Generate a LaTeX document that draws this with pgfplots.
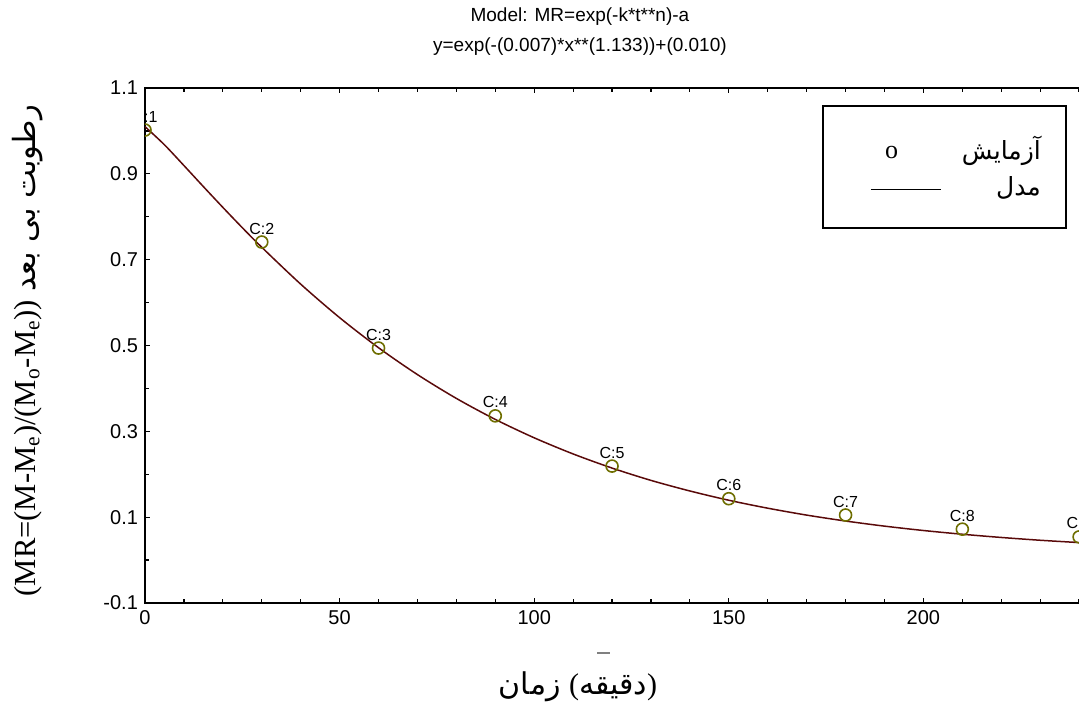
\documentclass[border=0pt]{standalone}
\usepackage{pgfplots}
\pgfplotsset{compat=1.18}
\usepackage{fontspec}
\setmainfont{Liberation Sans}
\newfontfamily\timesfont{Liberation Serif}
\newfontfamily\arabicfont[Script=Arabic]{DejaVu Sans}
\TeXXeTstate=1
\definecolor{curvecol}{HTML}{5A0A0A}
\definecolor{markcol}{HTML}{6E6E00}

\begin{document}
\begin{tikzpicture}
\path[use as bounding box] (-72.5pt,-50.5pt) rectangle (467pt,301.5pt);
\begin{axis}[
  at={(0pt,0pt)}, anchor=south west,
  scale only axis, width=486.5pt, height=257.5pt,
  xmin=0, xmax=250, ymin=-0.1, ymax=1.1,
  xtick={0,50,100,150,200},
  xticklabels={0,50,100,150,200},
  minor xtick={10,20,30,40,60,70,80,90,110,120,130,140,160,170,180,190,210,220,230,240},
  ytick={-0.1,0.1,0.3,0.5,0.7,0.9,1.1},
  yticklabels={-0.1,0.1,0.3,0.5,0.7,0.9,1.1},
  minor y tick num=1,
  tick align=inside, major tick length=2.5pt, minor tick length=2pt,
  axis line style={line width=1pt},
  every tick/.style={black, line width=0.6pt},
  tick label style={font=\fontsize{10}{12}\selectfont},
  clip marker paths=true,
  title={Model: MR=exp(-k*t**n)-a\\y=exp(-(0.007)*x**(1.133))+(0.010)},
  title style={font=\fontsize{9.5}{15}\selectfont, align=center,
    at={(axis description cs:0.447,1)}, anchor=south, yshift=6.5pt},
  xlabel={\hbox{\arabicfont\beginR زمان\endR}\ \hbox{\timesfont(}\hbox{\arabicfont\beginR دقیقه\endR}\hbox{\timesfont)}},
  xlabel style={font=\fontsize{15}{17}\selectfont, at={(axis description cs:0.445,0)}, anchor=north, yshift=-31pt},
  ylabel={{\timesfont (MR=(M-M\textsubscript{e})/(M\textsubscript{o}-M\textsubscript{e}))} {\arabicfont\beginR رطوبت بی بعد\endR}},
  ylabel style={font=\fontsize{15.3}{17}\selectfont, at={(axis description cs:-0.121,0.49)}, anchor=center},
  legend style={at={(axis description cs:0.6958,0.967)}, anchor=north west,
    draw=black, line width=0.9pt, inner xsep=10.5pt, inner ysep=13pt,
    row sep=3pt, font=\arabicfont\fontsize{12.5}{14}\selectfont},
  legend cell align=right,
]
\addlegendimage{legend image code/.code={
  \path[draw=none,fill=none] (-13.5pt,0pt) -- (43.5pt,0pt);
  \node[font=\timesfont\fontsize{13}{13}\selectfont, inner sep=0pt, black] at (14pt,-2.5pt) {o};}}
\addlegendentry{\beginR آزمایش\endR}
\addlegendimage{legend image code/.code={
  \path[draw=none,fill=none] (-13.5pt,0pt) -- (43.5pt,0pt);
  \draw[black, line width=0.7pt] (0pt,-1pt) -- (35pt,-1pt);}}
\addlegendentry{\beginR مدل\endR}

\addplot[curvecol, line width=0.75pt, smooth, forget plot] coordinates {
(0,1.0100) (5,0.9676) (10,0.9193) (15,0.8702) (20,0.8218) (25,0.7745)
(30,0.7289) (40,0.6430) (50,0.5649) (60,0.4948) (70,0.4322) (80,0.3767)
(90,0.3278) (100,0.2849) (110,0.2473) (120,0.2144) (130,0.1857) (140,0.1610)
(150,0.1394) (160,0.1209) (170,0.1048) (180,0.0910) (190,0.0791) (200,0.0689)
(210,0.0602) (220,0.0527) (230,0.0462) (240,0.0408) (250,0.0360)};

\addplot[only marks, mark=o, mark size=3pt, draw=markcol,
  mark options={line width=0.8pt, draw=markcol},
  nodes near coords, point meta=explicit symbolic,
  every node near coord/.append style={font=\fontsize{8}{9}\selectfont, text=black, anchor=south, inner sep=1pt, yshift=2.5pt},
  forget plot] table[meta=label] {
x y label
0 1.002 C:1
30 0.741 C:2
60 0.494 C:3
90 0.336 C:4
120 0.219 C:5
150 0.143 C:6
180 0.105 C:7
210 0.072 C:8
240 0.054 C:9
};
\end{axis}
\draw[gray, line width=0.7pt] (226pt,-25pt) -- (232.5pt,-25pt);
\end{tikzpicture}
\end{document}
